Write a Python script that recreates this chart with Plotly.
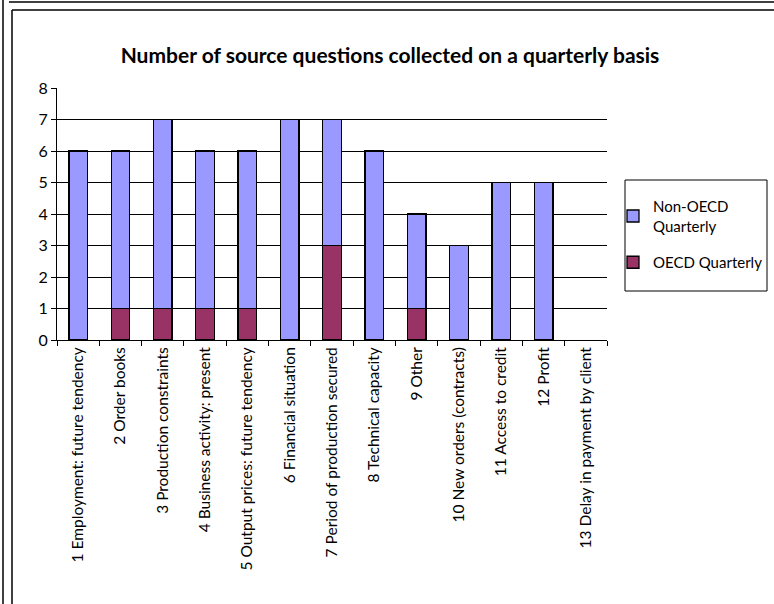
import plotly.graph_objects as go

categories = [
    "1 Employment: future tendency",
    "2 Order books",
    "3 Production constraints",
    "4 Business activity: present",
    "5 Output prices: future tendency",
    "6 Financial situation",
    "7 Period of production secured",
    "8 Technical capacity",
    "9 Other",
    "10 New orders (contracts)",
    "11 Access to credit",
    "12 Profit",
    "13 Delay in payment by client",
]
oecd_quarterly = [0, 1, 1, 1, 1, 0, 3, 0, 1, 0, 0, 0, 0]
non_oecd_quarterly = [6, 5, 6, 5, 5, 7, 4, 6, 3, 3, 5, 5, 0]
y_ticks = [0, 1, 2, 3, 4, 5, 6, 7, 8]

FONT = "Lato, Carlito, Calibri, sans-serif"


def nz(vals):
    # zero-height segments are not drawn (avoid outline slivers)
    return [v if v else None for v in vals]


fig = go.Figure()
fig.add_trace(go.Bar(
    x=categories, y=nz(oecd_quarterly), name="OECD Quarterly",
    legendgroup="oecd", legendrank=2,
    marker=dict(color="#993366", line=dict(color="black", width=1.3)),
))
fig.add_trace(go.Bar(
    x=categories, y=nz(non_oecd_quarterly), name="Non-OECD<br>Quarterly",
    legendgroup="non", legendrank=1,
    marker=dict(color="#9999FF", line=dict(color="black", width=1.3)),
))

# plot area in pixels
L, R, T, B = 57, 607, 88, 340
W, H = R - L, B - T


def px(x):
    return (x - L) / W


def py(y):
    return (B - y) / H


frame = dict(color="black", width=1.5)
shapes = [
    dict(type="line", xref="paper", yref="paper", x0=px(3), x1=px(3), y0=py(0), y1=py(604), line=frame),
    dict(type="line", xref="paper", yref="paper", x0=px(9), x1=px(774), y0=py(2), y1=py(2), line=frame),
    dict(type="line", xref="paper", yref="paper", x0=px(12), x1=px(12), y0=py(10), y1=py(604), line=frame),
    dict(type="line", xref="paper", yref="paper", x0=px(12), x1=px(774), y0=py(10), y1=py(10), line=frame),
    # legend box
    dict(type="rect", xref="paper", yref="paper", x0=px(625), x1=px(767), y0=py(180), y1=py(291),
         line=dict(color="black", width=1), fillcolor="rgba(0,0,0,0)"),
]

fig.update_layout(
    width=774, height=604,
    margin=dict(l=L, r=774 - R, t=T, b=604 - B, autoexpand=False),
    paper_bgcolor="white", plot_bgcolor="white",
    barmode="stack", bargap=0.56,
    font=dict(family=FONT, size=15, color="black"),
    title=dict(
        text="<b>Number of source questions collected on a quarterly basis</b>",
        x=390 / 774, xanchor="center", xref="container",
        y=1 - 56 / 604, yanchor="middle", yref="container",
        font=dict(family=FONT, size=21, color="black"),
    ),
    xaxis=dict(
        type="category", tickangle=-90, ticks="outside", tickson="boundaries",
        ticklen=5, tickcolor="black", showline=True, linecolor="black", linewidth=1,
        showgrid=False, tickfont=dict(size=15.5),
    ),
    yaxis=dict(
        range=[0, 8], tickvals=y_ticks, ticks="outside", ticklen=5, tickcolor="black",
        showline=True, linecolor="black", linewidth=1,
        showgrid=True, gridcolor="black", gridwidth=1, zeroline=False,
        tickfont=dict(size=16),
    ),
    showlegend=True,
    legend=dict(
        x=px(613), xanchor="left", y=py(190), yanchor="top",
        traceorder="grouped",
        borderwidth=0, bgcolor="rgba(0,0,0,0)",
        font=dict(size=15), tracegroupgap=14, itemwidth=30,
    ),
    shapes=shapes,
)

fig.write_html("out.html")
